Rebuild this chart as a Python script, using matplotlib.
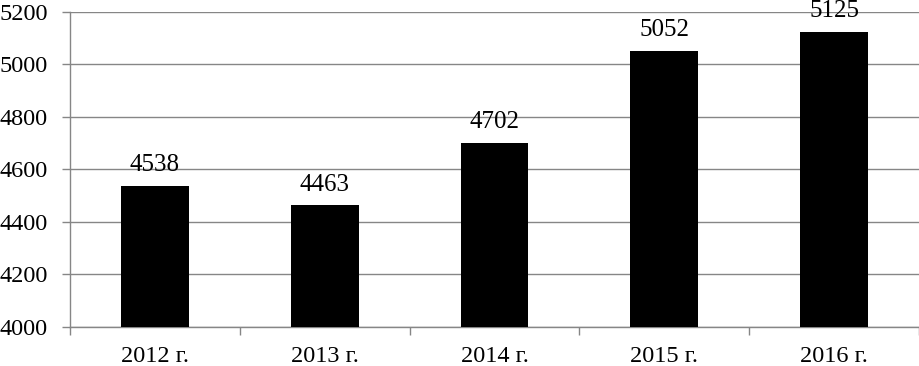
import matplotlib

matplotlib.use("Agg")
import matplotlib.pyplot as plt  # noqa: E402
import numpy as np  # noqa: E402

years = ["2012 г.", "2013 г.", "2014 г.", "2015 г.", "2016 г."]
values = [4538, 4463, 4702, 5052, 5125]
yticks = [4000, 4200, 4400, 4600, 4800, 5000, 5200]

GRID = "#868686"

plt.rcParams["font.family"] = ["Liberation Serif", "DejaVu Serif"]

fig = plt.figure(figsize=(9.2, 3.66), dpi=100)
ax = fig.add_axes([0.0761, 0.1066, 0.9228, 0.8607])

x = np.arange(len(years))
bars = ax.bar(x, values, 0.4, color="black", zorder=3)

ax.set_ylim(4000, 5200)
ax.set_xlim(-0.5, len(years) - 0.5)
ax.set_yticks(yticks)
ax.set_yticklabels([str(t) for t in yticks], fontsize=17.5)
ax.yaxis.grid(True, color=GRID, linewidth=1.0, zorder=0)

# category labels centred, tick marks at boundaries
ax.set_xticks(x)
ax.set_xticklabels(years, fontsize=17.5)
ax.tick_params(axis="x", which="major", length=0, pad=14)
ax.set_xticks(np.arange(len(years) + 1) - 0.5, minor=True)
ax.tick_params(axis="x", which="minor", length=6, color=GRID, width=1.0)
ax.tick_params(axis="y", length=6, color=GRID, width=1.0, pad=10)

for s in ("top", "right"):
    ax.spines[s].set_visible(False)
for s in ("left", "bottom"):
    ax.spines[s].set_color(GRID)
    ax.spines[s].set_linewidth(1.0)

for bar, v in zip(bars, values):
    ax.annotate(str(v), (bar.get_x() + bar.get_width() / 2, v),
                xytext=(0, 10.5), textcoords="offset points",
                ha="center", va="baseline", fontsize=18, clip_on=False)

fig.savefig("out.png", dpi=100)
